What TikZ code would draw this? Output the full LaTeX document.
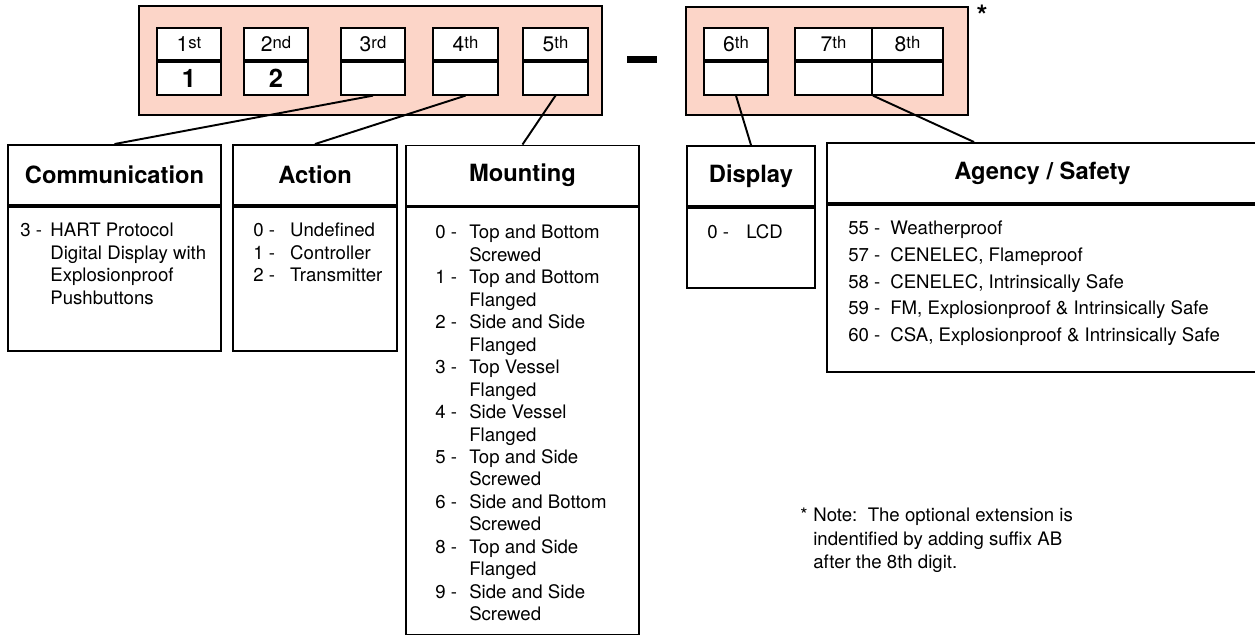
\documentclass[tikz,border=0pt]{standalone}
\usepackage{fontspec}
\setmainfont{TeX Gyre Heros}
\usetikzlibrary{positioning,calc}
\definecolor{codepink}{RGB}{252,213,200}
\tikzset{
codebox/.style={draw=black,fill=codepink,line width=1.1pt},
cell/.style={draw=black,fill=white,line width=1.1pt,inner sep=0pt,minimum height=0.65cm},
cellhead/.style={cell,font=\fontsize{12}{14}\selectfont},
cellval/.style={cell,font=\fontsize{14.5}{16}\selectfont\bfseries},
head/.style={draw=black,line width=1.1pt,minimum height=1.2cm,font=\fontsize{13.5}{16}\selectfont\bfseries},
body/.style={draw=black,line width=1.1pt},
link/.style={line width=1.1pt},
list/.style={anchor=base west,inner sep=0pt,font=\fontsize{10.6}{12.8}\selectfont},
}
\newcommand\codelist[2]{\begin{tabular}[t]{@{}p{#1}@{}l@{}}#2\end{tabular}}
\newcommand\ordnum[2]{#1\raisebox{1.6pt}{\fontsize{9.5}{10}\selectfont#2}}

\begin{document}
\begin{tikzpicture}[x=0.02cm,y=-0.02cm]
\useasboundingbox (0,0) rectangle (1255,635);
\draw[codebox] (139,6) rectangle (602,115);
\draw[codebox] (686,7) rectangle (968,115);
\foreach \n/\x/\w/\lab/\val in {
  1/189/1.28cm/\ordnum{1}{st}/1,
  2/276/1.28cm/\ordnum{2}{nd}/2,
  3/373/1.28cm/\ordnum{3}{rd}/{},
  4/465.5/1.3cm/\ordnum{4}{th}/{},
  5/555.5/1.3cm/\ordnum{5}{th}/{},
  6/736/1.28cm/\ordnum{6}{th}/{},
  7/833.5/1.54cm/\ordnum{7}{th}/{},
  8/907.5/1.42cm/\ordnum{8}{th}/{}}{
  \node[cellhead,minimum width=\w] (h\n) at (\x,44) {\lab};
  \node[cellval,minimum width=\w,below=0pt of h\n] (v\n) {\val};
}
\node[fill=black,inner sep=0pt,minimum width=0.6cm,minimum height=0.14cm] (dash) at (642,59.5) {};
\node[font=\fontsize{16}{16}\selectfont\bfseries] (star) at (982,15) {*};

\node[head,minimum width=4.26cm] (commhead) at (114.5,175) {Communication};
\node[body,minimum width=4.26cm,minimum height=2.88cm,below=0pt of commhead] (commbody) {};
\node[head,minimum width=3.28cm] (acthead) at (315,175) {Action};
\node[body,minimum width=3.28cm,minimum height=2.88cm,below=0pt of acthead] (actbody) {};
\node[head,minimum width=4.66cm] (mounthead) at (522.5,175.5) {Mounting};
\node[body,minimum width=4.66cm,minimum height=8.56cm,below=0pt of mounthead] (mountbody) {};
\node[head,minimum width=2.56cm] (disphead) at (751,176) {Display};
\node[body,minimum width=2.56cm,minimum height=1.6cm,below=0pt of disphead] (dispbody) {};
\node[head,minimum width=8.62cm] (agyhead) at (1042.5,173) {Agency / Safety};
\node[body,minimum width=8.62cm,minimum height=3.34cm,below=0pt of agyhead] (agybody) {};

\draw[link] (v3.south) -- (commhead.north);
\draw[link] (v4.south) -- (acthead.north);
\draw[link] (v5.south) -- (mounthead.north);
\draw[link] (v6.south) -- (disphead.north);
\draw[link] (v7.south east) -- ([xshift=2.96cm]agyhead.north west);

\node[list] (commlist) at (20,236.6) {\codelist{17.1pt}{3 -&HART Protocol\\&Digital Display with\\&Explosionproof\\&Pushbuttons}};
\node[list] (actlist) at (253,236.6) {\codelist{21pt}{0 -&Undefined\\1 -&Controller\\2 -&Transmitter}};
\node[list] (mountlist) at (435,238.6) {\codelist{19.3pt}{0 -&Top and Bottom\\&Screwed\\1 -&Top and Bottom\\&Flanged\\2 -&Side and Side\\&Flanged\\3 -&Top Vessel\\&Flanged\\4 -&Side Vessel\\&Flanged\\5 -&Top and Side\\&Screwed\\6 -&Side and Bottom\\&Screwed\\8 -&Top and Side\\&Flanged\\9 -&Side and Side\\&Screwed}};
\node[list] (displist) at (707,238.6) {\codelist{22.2pt}{0 -&LCD}};
\node[list,font=\fontsize{10.6}{15.2}\selectfont] (agylist) at (848,234.6) {\codelist{23.9pt}{55 -&Weatherproof\\57 -&CENELEC, Flameproof\\58 -&CENELEC, Intrinsically Safe\\59 -&FM, Explosionproof \& Intrinsically Safe\\60 -&CSA, Explosionproof \& Intrinsically Safe}};

\node[list,font=\fontsize{10.6}{13.4}\selectfont] (note) at (800,521.6) {\codelist{7.4pt}{*&Note:\ \ The optional extension is\\&indentified by adding suffix AB\\&after the 8th digit.}};
\end{tikzpicture}
\end{document}
